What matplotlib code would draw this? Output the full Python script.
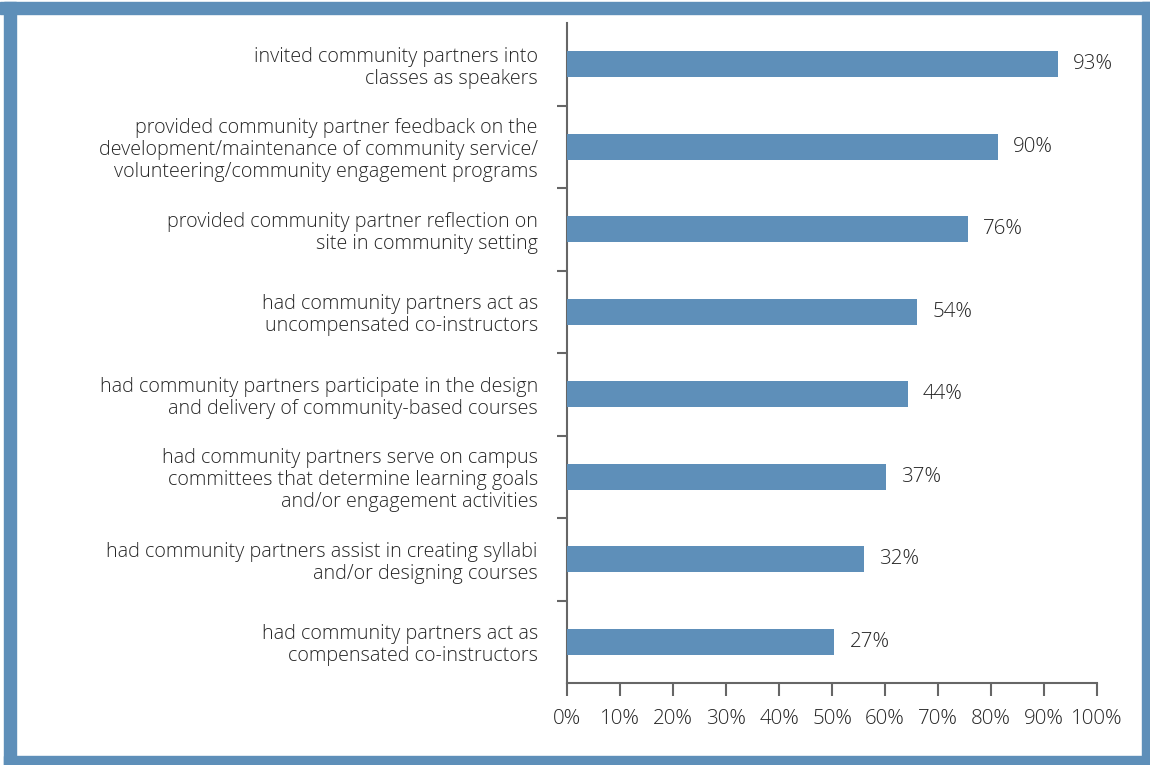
import matplotlib
matplotlib.use("Agg")
import matplotlib.pyplot as plt
from matplotlib.patches import Rectangle
import numpy as np

categories = [
    "invited community partners into\nclasses as speakers",
    "provided community partner feedback on the\ndevelopment/maintenance of community service/\nvolunteering/community engagement programs",
    "provided community partner reflection on\nsite in community setting",
    "had community partners act as\nuncompensated co-instructors",
    "had community partners participate in the design\nand delivery of community-based courses",
    "had community partners serve on campus\ncommittees that determine learning goals\nand/or engagement activities",
    "had community partners assist in creating syllabi\nand/or designing courses",
    "had community partners act as\ncompensated co-instructors",
]
# bar lengths as drawn in the picture (percent of axis)
bar_lengths = [92.6, 81.3, 75.6, 66.1, 64.3, 60.2, 56.0, 50.4]
# value labels as printed
value_labels = ["93%", "90%", "76%", "54%", "44%", "37%", "32%", "27%"]
x_ticks = [0, 10, 20, 30, 40, 50, 60, 70, 80, 90, 100]
x_tick_labels = ["0%", "10%", "20%", "30%", "40%", "50%", "60%", "70%", "80%", "90%", "100%"]

FONT = ["Open Sans", "DejaVu Sans"]
TXT = "#262626"
BLUE = "#5E8FB9"
AXC = "#666666"

W, H = 1150, 765
fig = plt.figure(figsize=(W / 100, H / 100), dpi=100)
fig.patch.set_facecolor("white")

# frame
def rect(x0, y0, x1, y1, color):
    fig.patches.append(Rectangle((x0 / W, 1 - y1 / H), (x1 - x0) / W, (y1 - y0) / H,
                                 transform=fig.transFigure, color=color, zorder=0))
rect(0, 2, W, 14, BLUE)        # top
rect(4, 2, 16, H, BLUE)        # left
rect(1142, 2, W, H, BLUE)      # right
rect(4, 756, W, H, BLUE)       # bottom

ax = fig.add_axes([567 / W, 1 - 683 / H, (1097 - 567) / W, (683 - 23) / H])
ax.set_facecolor("none")

n = len(categories)
y = np.arange(n)
ax.barh(y, bar_lengths, height=0.315, color=BLUE, zorder=3)
ax.set_xlim(0, 100)
ax.set_ylim(n - 0.5, -0.5)

for yi, v, lab in zip(y, bar_lengths, value_labels):
    ax.annotate(lab, (v, yi), xytext=(11, 0), textcoords="offset points",
                va="center", ha="left", fontsize=14.8, color=TXT,
                family=FONT, fontweight="light")

# category labels
ax.set_yticks(y)
ax.set_yticklabels(categories, fontsize=14.2, color=TXT, family=FONT,
                   linespacing=1.12, ha="right", fontweight="light")
ax.tick_params(axis="y", which="major", length=0, pad=21)
ax.set_yticks(np.arange(0.5, n - 1, 1.0), minor=True)
ax.tick_params(axis="y", which="minor", length=7, width=1.5, color=AXC, direction="out")

ax.set_xticks(x_ticks)
ax.set_xticklabels(x_tick_labels, fontsize=14.8, color=TXT, family=FONT, fontweight="light")
ax.tick_params(axis="x", length=9, width=1.5, color=AXC, pad=10)

for s in ["top", "right"]:
    ax.spines[s].set_visible(False)
for s in ["left", "bottom"]:
    ax.spines[s].set_color(AXC)
    ax.spines[s].set_linewidth(1.5)

fig.savefig("out.png", dpi=100)
